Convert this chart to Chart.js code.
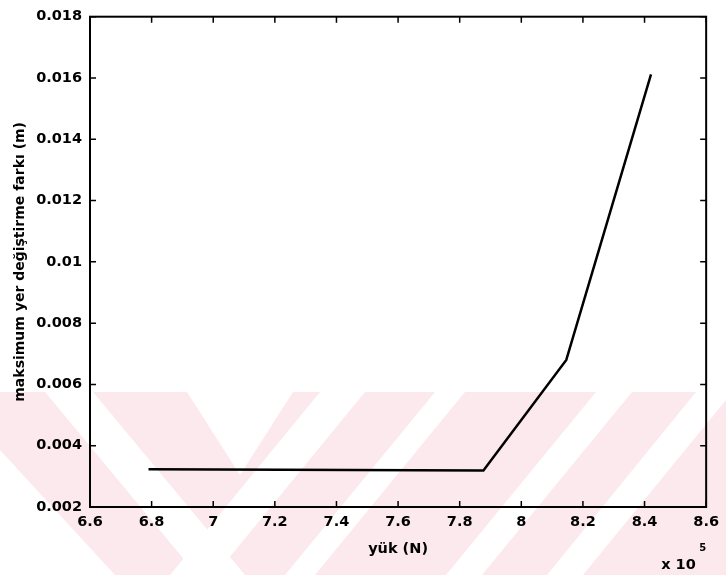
<!DOCTYPE html>
<html>
<head>
<meta charset="utf-8">
<title>yük - yer değiştirme farkı</title>
<script src="https://cdn.jsdelivr.net/npm/chart.js@4.4.0/dist/chart.umd.min.js"></script>
<style>
  html, body { margin: 0; padding: 0; background: #fff; }
  #wrap { width: 726px; height: 575px; }
</style>
</head>
<body>
<div id="wrap"><canvas id="yukChart" width="726" height="575"></canvas></div>
<script>
// values (x axis is in units of 10^5 N)
const loadValues = [6.79, 7.877, 8.146, 8.421];
const maxDispDiff = [0.00323, 0.00319, 0.0068, 0.01612];
const xTicks = [6.6, 6.8, 7, 7.2, 7.4, 7.6, 7.8, 8, 8.2, 8.4, 8.6];
const yTicks = [0.002, 0.004, 0.006, 0.008, 0.01, 0.012, 0.014, 0.016, 0.018];

const FONT = "'DejaVu Sans', sans-serif";

// faint pink watermark behind the lower part of the figure
const watermark = {
  id: 'watermark',
  beforeDraw(chart) {
    const ctx = chart.ctx;
    ctx.save();
    ctx.fillStyle = '#fce9ed';
    ctx.fillRect(0, 392, 726, 183);
    ctx.fillStyle = '#fff';
    const gaps = [
      [[45, 392], [93, 392], [245, 575], [197, 575]],
      [[187, 392], [293, 392], [240, 475]],
      [[0, 450], [0, 575], [115, 575]],
      [[320, 392], [365, 392], [215, 575], [170, 575]],
      [[435, 392], [465, 392], [315, 575], [285, 575]],
      [[596, 392], [632, 392], [482, 575], [446, 575]],
      [[696, 392], [726, 392], [726, 400], [583, 575], [547, 575]]
    ];
    gaps.forEach(poly => {
      ctx.beginPath();
      poly.forEach(([px, py], i) => i ? ctx.lineTo(px, py) : ctx.moveTo(px, py));
      ctx.closePath();
      ctx.fill();
    });
    ctx.restore();
  }
};

// matlab style box with inward ticks on all four sides, plus the x 10^5 note
const axesBox = {
  id: 'axesBox',
  afterDraw(chart) {
    const { ctx, chartArea: a, scales: { x, y } } = chart;
    ctx.save();
    ctx.strokeStyle = '#000';
    ctx.lineWidth = 1.5;
    ctx.beginPath();
    xTicks.forEach(v => {
      const px = x.getPixelForValue(v);
      ctx.moveTo(px, a.bottom); ctx.lineTo(px, a.bottom - 6);
      ctx.moveTo(px, a.top); ctx.lineTo(px, a.top + 6);
    });
    yTicks.forEach(v => {
      const py = y.getPixelForValue(v);
      ctx.moveTo(a.left, py); ctx.lineTo(a.left + 6, py);
      ctx.moveTo(a.right, py); ctx.lineTo(a.right - 6, py);
    });
    ctx.stroke();
    ctx.lineWidth = 2;
    ctx.strokeRect(a.left, a.top, a.right - a.left, a.bottom - a.top);

    ctx.fillStyle = '#000';
    ctx.textBaseline = 'middle';
    ctx.textAlign = 'left';
    ctx.font = 'bold 14.5px ' + FONT;
    ctx.fillText('x 10', a.right - 45, a.bottom + 58);
    ctx.font = 'bold 10px ' + FONT;
    ctx.fillText('5', a.right - 7, a.bottom + 41);
    ctx.restore();
  }
};

const ctx = document.getElementById('yukChart').getContext('2d');
new Chart(ctx, {
  type: 'line',
  data: {
    datasets: [{
      data: loadValues.map((v, i) => ({ x: v, y: maxDispDiff[i] })),
      borderColor: '#000',
      borderWidth: 2.5,
      pointRadius: 0,
      tension: 0,
      fill: false
    }]
  },
  options: {
    responsive: false,
    animation: false,
    layout: { padding: { top: 11, right: 11, left: 0, bottom: 0 } },
    plugins: {
      legend: { display: false },
      tooltip: { enabled: false }
    },
    scales: {
      x: {
        type: 'linear',
        min: 6.6,
        max: 8.6,
        afterBuildTicks: s => { s.ticks = xTicks.map(v => ({ value: v })); },
        afterFit: s => { s.height = 68; },
        grid: { display: false, drawTicks: false },
        border: { display: false },
        ticks: {
          color: '#000',
          padding: 7,
          maxRotation: 0,
          font: { family: FONT, size: 14.5, weight: 'bold' },
          callback: v => String(+v.toFixed(1))
        },
        title: {
          display: true,
          text: 'yük (N)',
          color: '#000',
          padding: { top: 0, bottom: 17 },
          font: { family: FONT, size: 14.5, weight: 'bold' }
        }
      },
      y: {
        type: 'linear',
        min: 0.002,
        max: 0.018,
        afterBuildTicks: s => { s.ticks = yTicks.map(v => ({ value: v })); },
        afterFit: s => { s.width = 90; },
        grid: { display: false, drawTicks: false },
        border: { display: false },
        ticks: {
          color: '#000',
          padding: 8,
          font: { family: FONT, size: 14.5, weight: 'bold' },
          callback: v => String(+v.toFixed(3))
        },
        title: {
          display: true,
          text: 'maksimum yer değiştirme farkı (m)',
          color: '#000',
          padding: { top: 12, bottom: 0 },
          font: { family: FONT, size: 14, weight: 'bold' }
        }
      }
    }
  },
  plugins: [watermark, axesBox]
});
</script>
</body>
</html>
